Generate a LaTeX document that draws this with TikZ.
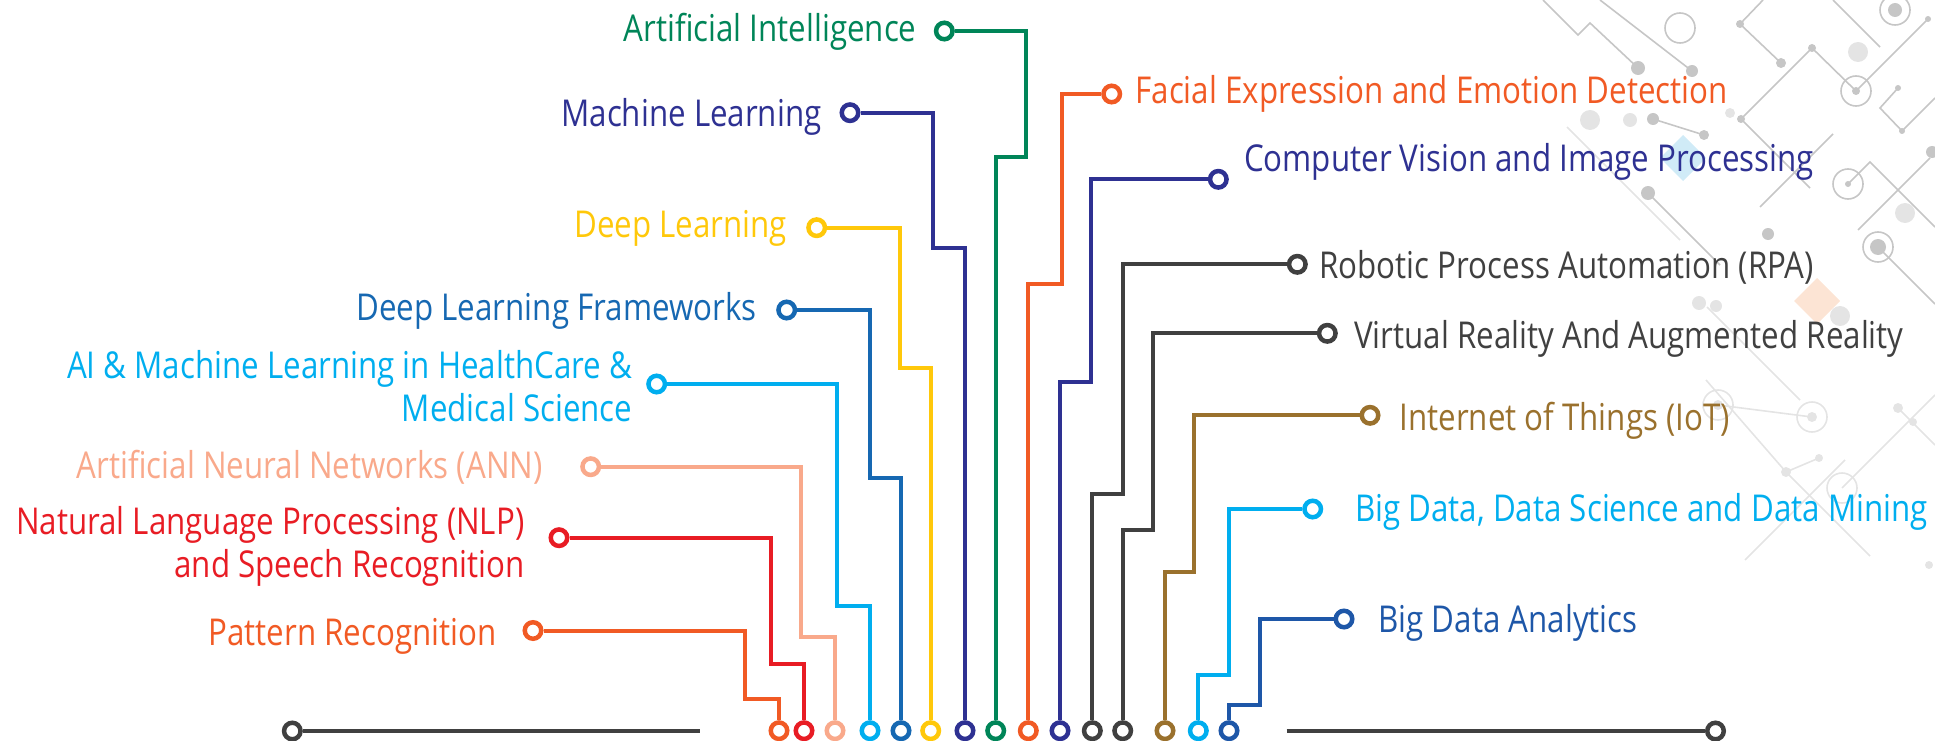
\documentclass[tikz,border=0pt]{standalone}
\usepackage{fontspec}
\setmainfont[FakeStretch=0.846]{Open Sans}
\usepackage{xcolor}
\usepackage{tikz}

\definecolor{aigreen}{RGB}{0,133,88}
\definecolor{mlnavy}{RGB}{46,49,146}
\definecolor{dlyellow}{RGB}{255,200,10}
\definecolor{dlfblue}{RGB}{22,104,178}
\definecolor{hccyan}{RGB}{0,174,239}
\definecolor{annpink}{RGB}{249,169,139}
\definecolor{nlpred}{RGB}{232,28,36}
\definecolor{prorange}{RGB}{241,90,36}
\definecolor{rpagrey}{RGB}{64,64,64}
\definecolor{iotbrown}{RGB}{154,113,45}
\definecolor{bdablue}{RGB}{30,87,168}
\definecolor{bgline}{RGB}{198,198,198}
\definecolor{bglight}{RGB}{228,228,228}
\definecolor{bgblue}{RGB}{208,235,247}
\definecolor{bgpeach}{RGB}{252,228,212}

\begin{document}
\begin{tikzpicture}[x=1pt,y=-1pt,
  pad/.style={circle, draw=#1, fill=white, line width=4.5pt, minimum size=16.5pt, inner sep=0pt},
  wire/.style={draw=#1, line width=4pt},
  lbl/.style={text=#1, inner sep=0pt, font=\fontsize{37}{43.4}\selectfont},
  trace/.style={draw=#1, line width=1.6pt}]
\useasboundingbox (0,0) rectangle (1935,741);
%%% Draws circuit background
% draws diamonds
\fill[bgblue] (1683,135) -- (1706,158) -- (1683,181) -- (1660,158) -- cycle;
\fill[bgpeach] (1817,278) -- (1840,301) -- (1817,324) -- (1794,301) -- cycle;
% draws traces
\draw[trace=bglight] (1567,127) -- (1680,240);
\draw[trace=bglight] (1707,307) -- (1800,400);
\draw[trace=bglight] (1706,380) -- (1786,472) -- (1819,458);
\draw[trace=bglight] (1745,560) -- (1845,460);
\draw[trace=bglight] (1842,488) -- (1935,395);
\draw[trace=bglight] (1786,472) -- (1870,556);
\draw[trace=bglight] (1898,408) -- (1935,445);
\draw[trace=bglight] (1718,405) -- (1812,417);
\draw[trace=bgline] (1543,0) -- (1578,35) -- (1590,23) -- (1638,68);
\draw[trace=bgline] (1600,0) -- (1692,71);
\draw[trace=bgline] (1763,0) -- (1740,24) -- (1781,63);
\draw[trace=bgline] (1856,91) -- (1812,48) -- (1741,119) -- (1810,188);
\draw[trace=bgline] (1653,119) -- (1704,135);
\draw[trace=bgline] (1856,91) -- (1928,19);
\draw[trace=bgline] (1833,0) -- (1880,47);
\draw[trace=bgline] (1898,88) -- (1880,108) -- (1902,131) -- (1935,98);
\draw[trace=bgline] (1760,207) -- (1833,134);
\draw[trace=bgline] (1848,184) -- (1870,162) -- (1935,227);
\draw[trace=bgline] (1858,230) -- (1930,158);
\draw[trace=bgline] (1878,247) -- (1935,304);
\draw[trace=bgline] (1648,193) -- (1720,265);
% draws rings and dots
\foreach \x/\y in {1680/28, 1895/10, 1856/91, 1848/184, 1878/247}
  \draw[trace=bgline] (\x,\y) circle (15);
\foreach \x/\y in {1718/405, 1812/417, 1842/488}
  \draw[trace=bglight] (\x,\y) circle (15);
\foreach \x/\y/\r in {1895/10/7, 1878/247/8, 1638/68/7, 1692/71/6, 1781/63/5, 1812/48/4,
    1740/24/4, 1928/19/3, 1653/119/6, 1704/135/5, 1741/119/4, 1768/234/6, 1648/193/7,
    1902/131/3, 1898/88/3, 1932/152/6, 1856/91/4, 1848/184/3}
  \fill[bgline] (\x,\y) circle (\r);
\foreach \x/\y/\r in {1590/120/10, 1630/120/7, 1858/52/10, 1730/113/5, 1905/213/10,
    1699/303/7, 1716/306/6, 1840/316/10, 1786/472/5, 1819/458/4, 1898/408/5,
    1913/422/4, 1929/565/4, 1718/405/5, 1812/417/5}
  \fill[bglight] (\x,\y) circle (\r);
%%% Draws bottom row
% draws end pads
\foreach \n/\x/\c in {pr/779/prorange, nlp/804/nlpred, ann/835/annpink, aih/870/hccyan,
    dlf/901/dlfblue, dl/930.7/dlyellow, ml/965/mlnavy, ai/995.7/aigreen,
    fed/1028.3/prorange, cv/1060/mlnavy, rpa/1092.3/rpagrey, vr/1122.7/rpagrey,
    iot/1165/iotbrown, bdds/1198.3/hccyan, bda/1229/bdablue}
  \node[pad=\c] (\n B) at (\x,730.7) {};
% draws base rails
\node[pad=rpagrey] (railL) at (292.3,731) {};
\coordinate (railLend) at (700,731);
\coordinate (railRend) at (1286.7,731);
\node[pad=rpagrey] (railR) at (1715.5,731) {};
\draw[wire=rpagrey] (railL) -- (railLend);
\draw[wire=rpagrey] (railRend) -- (railR);
%%% Draws left branches
% draws pads
\node[pad=prorange] (prT) at (533,630.5) {};
\node[pad=nlpred] (nlpT) at (559,537.7) {};
\node[pad=annpink] (annT) at (590.7,466.7) {};
\node[pad=hccyan] (aihT) at (656.7,384) {};
\node[pad=dlfblue] (dlfT) at (786.7,310) {};
\node[pad=dlyellow] (dlT) at (816.7,227.7) {};
\node[pad=mlnavy] (mlT) at (850,112.7) {};
\node[pad=aigreen] (aiT) at (944.3,31) {};
% draws wires
\draw[wire=prorange] (prT) -| (745,699.3) -| (prB);
\draw[wire=nlpred] (nlpT) -| (770.7,664) -| (nlpB);
\draw[wire=annpink] (annT) -| (801.3,636.7) -| (annB);
\draw[wire=hccyan] (aihT) -| (836.7,605.7) -| (aihB);
\draw[wire=dlfblue] (dlfT) -| (870,478.3) -| (dlfB);
\draw[wire=dlyellow] (dlT) -| (900,368.3) -| (dlB);
\draw[wire=mlnavy] (mlT) -| (933.3,248.3) -| (mlB);
\draw[wire=aigreen] (aiT) -| (1026,156.7) -| (aiB);
% labels pads
\node[lbl=prorange, anchor=base east] (prL) at (496.7,645.5) {Pattern Recognition};
\node[lbl=nlpred, anchor=east, align=right] (nlpL) at (524.5,546.3) {Natural Language Processing (NLP)\\and Speech Recognition};
\node[lbl=annpink, anchor=base east] (annL) at (542.7,478.8) {Artificial Neural Networks (ANN)};
\node[lbl=hccyan, anchor=east, align=right] (aihL) at (632.5,386.2) {AI \& Machine Learning in HealthCare \&\\Medical Science};
\node[lbl=dlfblue, anchor=base east] (dlfL) at (756.7,320.7) {Deep Learning Frameworks};
\node[lbl=dlyellow, anchor=base east] (dlL) at (787.3,237.3) {Deep Learning};
\node[lbl=mlnavy, anchor=base east] (mlL) at (821.7,126.7) {Machine Learning};
\node[lbl=aigreen, anchor=base east] (aiL) at (916.7,41.7) {Artificial Intelligence};
%%% Draws right branches
% draws pads
\node[pad=prorange] (fedT) at (1111.7,94) {};
\node[pad=mlnavy] (cvT) at (1218.3,179.3) {};
\node[pad=rpagrey] (rpaT) at (1297.3,264.3) {};
\node[pad=rpagrey] (vrT) at (1327.3,333.3) {};
\node[pad=iotbrown] (iotT) at (1370,415.3) {};
\node[pad=hccyan] (bddsT) at (1312.7,509) {};
\node[pad=bdablue] (bdaT) at (1344,619) {};
% draws wires
\draw[wire=prorange] (fedT) -| (1061.7,284.3) -| (fedB);
\draw[wire=mlnavy] (cvT) -| (1090.7,382.3) -| (cvB);
\draw[wire=rpagrey] (rpaT) -| (1122.7,494.3) -| (rpaB);
\draw[wire=rpagrey] (vrT) -| (1153.3,530) -| (vrB);
\draw[wire=iotbrown] (iotT) -| (1194.3,572.3) -| (iotB);
\draw[wire=hccyan] (bddsT) -| (1229,675) -| (bddsB);
\draw[wire=bdablue] (bdaT) -| (1260,705) -| (bdaB);
% labels pads
\node[lbl=prorange, anchor=base west] (fedL) at (1135.3,103.7) {Facial Expression and Emotion Detection};
\node[lbl=mlnavy, anchor=base west] (cvL) at (1244,171.7) {Computer Vision and Image Processing};
\node[lbl=rpagrey, anchor=base west] (rpaL) at (1319.3,278.3) {Robotic Process Automation (RPA)};
\node[lbl=rpagrey, anchor=base west] (vrL) at (1354,348.3) {Virtual Reality And Augmented Reality};
\node[lbl=iotbrown, anchor=base west] (iotL) at (1399.3,430) {Internet of Things (IoT)};
\node[lbl=hccyan, anchor=base west] (bddsL) at (1355,521) {Big Data, Data Science and Data Mining};
\node[lbl=bdablue, anchor=base west] (bdaL) at (1378.3,632.7) {Big Data Analytics};
\end{tikzpicture}
\end{document}
